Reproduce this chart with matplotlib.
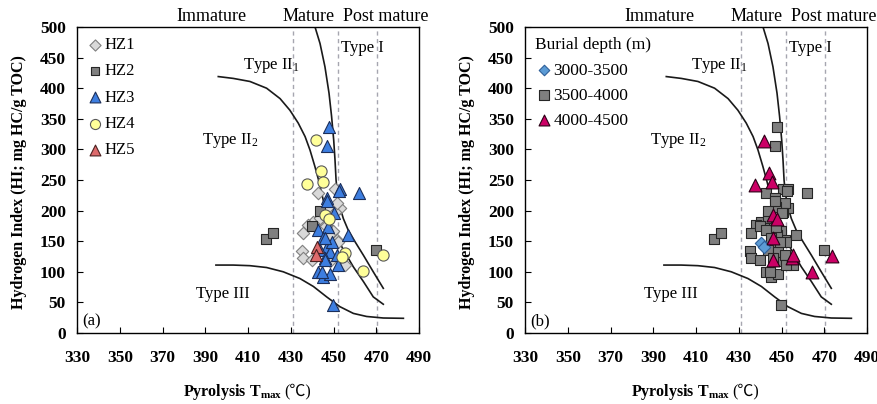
import matplotlib
matplotlib.use("Agg")
import matplotlib.pyplot as plt
import matplotlib.transforms as mtransforms

plt.rcParams['font.family'] = ['Liberation Serif', 'Noto Sans CJK SC', 'DejaVu Sans']
plt.rcParams['mathtext.fontset'] = 'custom'
plt.rcParams['mathtext.rm'] = 'Liberation Serif'
plt.rcParams['mathtext.it'] = 'Liberation Serif:italic'
plt.rcParams['mathtext.bf'] = 'Liberation Serif:bold'

# ---------------- data ----------------
x_ticks = [330, 350, 370, 390, 410, 430, 450, 470, 490]
y_ticks = [0, 50, 100, 150, 200, 250, 300, 350, 400, 450, 500]

# maturity boundaries (Tmax, degC)
maturity_lines = [431, 452, 470.5]

# kerogen type boundary curves (Tmax, HI)
typeI_T = [441.4, 443.7, 446.0, 447.9, 449.1, 450.1, 450.7, 451.2, 451.8, 453.0,
           454.6, 456.9, 460.1, 464.0, 468.6, 473.3]
typeI_HI = [499.5, 473, 435, 392, 354, 315, 283, 250, 228, 206,
            187, 168, 149, 127, 100, 73]
typeII_T = [396.1, 403.1, 410.9, 418.7, 425.0, 429.6, 433.5, 436.7, 439.0, 441.3,
            443.4, 445.2, 447.6, 450.7, 454.6, 459.3, 464.0, 468.6, 473.3]
typeII_HI = [419, 416, 411, 400, 383, 364, 343, 321, 299, 272,
             245, 217, 190, 163, 136, 108, 84, 59, 47]
typeIII_T = [395.0, 403.1, 410.9, 418.7, 426.5, 434.3, 440.6, 446.8, 453.0, 459.3,
             465.5, 473.3, 482.7]
typeIII_HI = [111, 111, 110, 107, 100, 89, 76, 59, 43, 32, 27, 24.5, 24]

# panel (a): samples by zone
hz1_T = [442.9, 450.7, 453.0, 450.7, 451.5, 447.6, 440.6, 438.2, 435.9, 449.9,
         451.5, 435.1, 435.9, 455.4, 444.5, 446.5, 443.5, 448.5, 440.0, 452.3, 448.0]
hz1_HI = [228, 236, 204, 198, 212, 206, 182, 176, 163, 166,
          152, 134, 122, 111, 183, 175, 188, 118, 120, 149, 160]
hz2_T = [418.4, 421.9, 443.7, 440.1, 469.9]
hz2_HI = [154, 163, 200, 175, 136]
hz3_T = [447.9, 446.8, 453.0, 452.5, 461.9, 446.8, 450.0, 442.9, 447.6, 456.9,
         445.2, 446.8, 443.7, 448.3, 451.5, 446.0, 442.9, 445.2, 448.3, 452.2,
         449.9, 446.8, 449.2, 444.5, 445.9, 445.9]
hz3_HI = [337, 305, 236, 232, 228, 220, 196, 168, 174, 160,
          155, 141, 136, 133, 127, 122, 100, 92, 97, 111,
          46, 215, 149, 100, 155, 119]
hz4_T = [441.8, 437.8, 444.2, 445.0, 446.0, 447.9, 455.4, 454.2, 464.0, 473.3]
hz4_HI = [315, 243, 264, 247, 193, 187, 130, 125, 102, 127]
hz5_T = [442.5, 442.0]
hz5_HI = [141, 127]

# panel (b): samples by burial depth
d3000_T = [440.6, 442.0]
d3000_HI = [147, 141]
d3500_T = hz1_T + hz2_T + hz3_T[:-2]
d3500_HI = hz1_HI + hz2_HI + hz3_HI[:-2]
d4000_T = [442.0, 444.2, 445.4, 437.6, 446.2, 448.0, 445.9, 445.9, 454.8, 455.5, 464.1, 473.5]
d4000_HI = [314, 262, 246, 242, 193, 187, 155, 119, 122, 127, 100, 126]

# ---------------- figure ----------------
fig = plt.figure(figsize=(8.77, 4.04), dpi=100)
ax_a = fig.add_axes([77 / 877, 71 / 404, 342 / 877, 306 / 404])
ax_b = fig.add_axes([525 / 877, 71 / 404, 342 / 877, 306 / 404])

lab_fs = 12


def base(ax, letter):
    ax.set_xlim(330, 490)
    ax.set_ylim(0, 500)
    ax.set_xticks(x_ticks)
    ax.set_yticks(y_ticks)
    ax.tick_params(direction='in', length=4, width=0.8, labelsize=12.5)
    ax.tick_params(axis='x', pad=12)
    ax.tick_params(axis='y', pad=8)
    for lab in ax.get_xticklabels() + ax.get_yticklabels():
        lab.set_fontweight('bold')
    for s in ax.spines.values():
        s.set_linewidth(1.0)
        s.set_color('black')
    for xv in maturity_lines:
        ax.axvline(xv, color='#a6a6b0', lw=1.0, ls=(0, (3, 2.5)), zorder=1)
    ax.plot(typeI_T, typeI_HI, color='#1a1a1a', lw=1.2, zorder=2)
    ax.plot(typeII_T, typeII_HI, color='#1a1a1a', lw=1.2, zorder=2)
    ax.plot(typeIII_T, typeIII_HI, color='#1a1a1a', lw=1.2, zorder=2)

    tr = mtransforms.blended_transform_factory(ax.transData, ax.transAxes)
    ax.text(393, 1.034, "Immature", transform=tr, ha='center', va='center', fontsize=13)
    ax.text(438.2, 1.034, "Mature", transform=tr, ha='center', va='center', fontsize=13)
    ax.text(474.6, 1.034, "Post mature", transform=tr, ha='center', va='center', fontsize=13)

    ax.text(421, 437, r"Type II$_\mathrm{1}$", ha='center', va='center', fontsize=lab_fs)
    ax.text(463.7, 466, "Type I", ha='center', va='center', fontsize=lab_fs)
    ax.text(401.6, 315, r"Type II$_\mathrm{2}$", ha='center', va='center', fontsize=lab_fs)
    ax.text(398.2, 63, "Type III", ha='center', va='center', fontsize=lab_fs)
    ax.text(337, 19, letter, ha='center', va='center', fontsize=lab_fs)

    ax.text(-0.170, 0.494, "Hydrogen Index (HI; mg HC/g TOC)", transform=ax.transAxes,
            rotation=90, ha='center', va='center', fontsize=11.5, fontweight='bold')
    ax.text(0.602, -0.205, r"Pyrolysis T$_{\mathbf{max}}$", transform=ax.transAxes,
            ha='right', va='baseline', fontsize=11.5, fontweight='bold')
    ax.text(0.607, -0.205, "(℃)", transform=ax.transAxes,
            ha='left', va='baseline', fontsize=11.5)


base(ax_a, "(a)")
base(ax_b, "(b)")

# panel (a)
ax_a.scatter(hz1_T, hz1_HI, marker='D', s=40, c='#d9d9d9', edgecolors='#7f7f7f', linewidths=0.8, zorder=3, label='HZ1')
ax_a.scatter(hz2_T, hz2_HI, marker='s', s=50, c='#808080', edgecolors='#262626', linewidths=0.8, zorder=3, label='HZ2')
ax_a.scatter(hz3_T, hz3_HI, marker='^', s=75, c='#3d7ee0', edgecolors='#1c2f5a', linewidths=0.8, zorder=3, label='HZ3')
ax_a.scatter(hz4_T, hz4_HI, marker='o', s=65, c='#ffff99', edgecolors='#595959', linewidths=0.8, zorder=3, label='HZ4')
ax_a.scatter(hz5_T, hz5_HI, marker='^', s=75, c='#dd6a6c', edgecolors='#4a2020', linewidths=0.8, zorder=3, label='HZ5')
leg_a = ax_a.legend(loc='upper left', bbox_to_anchor=(0.0, 1.0), frameon=False, fontsize=12,
                    handletextpad=0.05, labelspacing=0.62, borderaxespad=0.3, handlelength=1.0,
                    borderpad=0.3, markerscale=0.9)

# panel (b)
ax_b.scatter(d3500_T, d3500_HI, marker='s', s=60, c='#7f7f7f', edgecolors='#262626', linewidths=0.8, zorder=3, label='3500-4000')
ax_b.scatter(d3000_T, d3000_HI, marker='D', s=40, c='#5b9bd5', edgecolors='#2e5f99', linewidths=0.8, zorder=4, label='3000-3500')
ax_b.scatter(d4000_T, d4000_HI, marker='^', s=85, c='#cc0066', edgecolors='#2a0015', linewidths=0.8, zorder=5, label='4000-4500')
h, l = ax_b.get_legend_handles_labels()
order = [1, 0, 2]
leg_b = ax_b.legend([h[i] for i in order], [l[i] for i in order], loc='upper left',
                    bbox_to_anchor=(0.0, 1.0), frameon=False, fontsize=12.5,
                    title='Burial depth (m)', title_fontsize=12.5,
                    handletextpad=0.05, labelspacing=0.52, borderaxespad=0.3,
                    handlelength=1.0, borderpad=0.3, markerscale=0.85)
leg_b._legend_box.align = 'left'

fig.savefig('out.png', dpi=100)
